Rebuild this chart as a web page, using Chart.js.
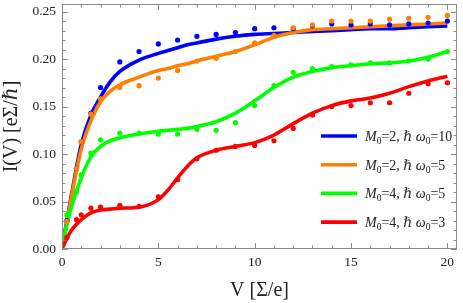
<!DOCTYPE html>
<html>
<head>
<meta charset="utf-8">
<script src="https://cdn.jsdelivr.net/npm/chart.js@4/dist/chart.umd.min.js"></script>
<style>
  html, body { margin: 0; padding: 0; background: #fff; }
  canvas { display: block; }
</style>
</head>
<body>
<canvas id="c" width="463" height="303"></canvas>
<script>
// ---------- data ----------
const seriesLabels = [
  ["M", "0", "=2, ", "ℏ", " ", "ω", "0", "=10"],
  ["M", "0", "=2, ", "ℏ", " ", "ω", "0", "=5"],
  ["M", "0", "=4, ", "ℏ", " ", "ω", "0", "=5"],
  ["M", "0", "=4, ", "ℏ", " ", "ω", "0", "=3"]
];
const seriesColors = ["#0000ff", "#ff8000", "#00ff00", "#ff0000"];

// theory curves (sampled V values)
const curveV = [0, 0.25, 0.5, 1, 1.5, 2, 2.5, 3, 4, 5, 5.5, 6, 6.5, 7, 8, 9, 10, 11, 12, 13, 14, 15, 16, 17, 18, 19, 20];
const curveBlue   = [0, 0.030, 0.058, 0.110, 0.141, 0.160, 0.176, 0.187, 0.199, 0.206, 0.209, 0.212, 0.215, 0.217, 0.221, 0.224, 0.226, 0.227, 0.228, 0.229, 0.230, 0.231, 0.232, 0.232, 0.233, 0.234, 0.235];
const curveOrange = [0, 0.028, 0.056, 0.105, 0.135, 0.155, 0.166, 0.173, 0.181, 0.188, 0.190, 0.193, 0.195, 0.198, 0.203, 0.208, 0.215, 0.223, 0.228, 0.231, 0.232, 0.233, 0.234, 0.235, 0.236, 0.237, 0.238];
const curveGreen  = [0, 0.025, 0.045, 0.075, 0.097, 0.108, 0.114, 0.117, 0.121, 0.124, 0.125, 0.126, 0.127, 0.129, 0.134, 0.143, 0.156, 0.170, 0.181, 0.187, 0.191, 0.193, 0.195, 0.196, 0.198, 0.202, 0.208];
const curveRed    = [0, 0.011, 0.020, 0.031, 0.038, 0.041, 0.042, 0.043, 0.044, 0.052, 0.062, 0.075, 0.087, 0.096, 0.104, 0.108, 0.112, 0.120, 0.132, 0.143, 0.151, 0.156, 0.159, 0.164, 0.171, 0.177, 0.182];

// simulation points
const pointV = [0.25, 0.75, 1, 1.5, 2, 3, 4, 5, 6, 7, 8, 9, 10, 11, 12, 13, 14, 15, 16, 17, 18, 19, 20];
const pointsBlue   = [0.030, 0.085, 0.113, 0.143, 0.170, 0.197, 0.208, 0.216, 0.220, 0.224, 0.226, 0.228, 0.232, 0.233, 0.232, 0.235, 0.237, 0.236, 0.237, 0.236, 0.237, 0.238, 0.240];
const pointsOrange = [0.029, 0.085, 0.113, 0.142, 0.158, 0.170, 0.172, 0.180, 0.188, 0.198, 0.201, 0.208, 0.217, 0.225, 0.233, 0.236, 0.240, 0.240, 0.240, 0.242, 0.243, 0.244, 0.246];
const pointsGreen  = [0.036, 0.060, 0.078, 0.101, 0.115, 0.122, 0.122, 0.121, 0.121, 0.126, 0.125, 0.133, 0.151, 0.172, 0.186, 0.190, 0.192, 0.194, 0.196, 0.196, 0.198, 0.200, 0.208];
const pointsRed    = [0.012, 0.031, 0.036, 0.043, 0.044, 0.046, 0.045, 0.055, 0.073, 0.095, 0.104, 0.108, 0.109, 0.114, 0.127, 0.141, 0.150, 0.151, 0.154, 0.154, 0.164, 0.174, 0.175];

const xTicks = [0, 5, 10, 15, 20];
const yTicks = [0, 0.05, 0.10, 0.15, 0.20, 0.25];
const xTitle = "V [Σ/e]";
const yTitle = "I(V) [eΣ/ℏ]";

// ---------- build ----------
const curves = [curveBlue, curveOrange, curveGreen, curveRed];
const points = [pointsBlue, pointsOrange, pointsGreen, pointsRed];
const toXY = (xs, ys) => xs.map((x, i) => ({ x: x, y: ys[i] }));

const datasets = [];
curves.forEach((c, i) => {
  datasets.push({
    type: 'line', data: toXY(curveV, c), borderColor: seriesColors[i],
    borderWidth: 3.6, pointRadius: 0, fill: false, showLine: true,
    cubicInterpolationMode: 'monotone', order: 10 - i
  });
});
points.forEach((p, i) => {
  datasets.push({
    type: 'scatter', data: toXY(pointV, p), backgroundColor: seriesColors[i],
    borderWidth: 0, pointRadius: 2.6, order: 5 - i
  });
});

const serif = "'Liberation Serif', 'DejaVu Serif', serif";
const frameColor = '#8c8c8c';

const framePlugin = {
  id: 'frameTicks',
  afterDraw(chart) {
    const ctx = chart.ctx, a = chart.chartArea;
    const xs = chart.scales.x, ys = chart.scales.y;
    ctx.save();
    ctx.strokeStyle = frameColor;
    ctx.lineWidth = 1;
    ctx.strokeRect(a.left + 0.5, a.top + 0.5, a.right - a.left - 1, a.bottom - a.top - 1);
    ctx.beginPath();
    for (let v = 0; v <= 20; v += 1) {
      const px = Math.round(xs.getPixelForValue(v)) + 0.5;
      const len = (v % 5 === 0) ? 6 : 3.5;
      ctx.moveTo(px, a.bottom); ctx.lineTo(px, a.bottom - len);
      ctx.moveTo(px, a.top); ctx.lineTo(px, a.top + len);
    }
    for (let k = 0; k <= 25; k += 1) {
      const py = Math.round(ys.getPixelForValue(k / 100)) + 0.5;
      const len = (k % 5 === 0) ? 6 : 3.5;
      ctx.moveTo(a.left, py); ctx.lineTo(a.left + len, py);
      ctx.moveTo(a.right, py); ctx.lineTo(a.right - len, py);
    }
    ctx.stroke();

    // legend
    const lx0 = a.right - 136, lx1 = a.right - 100, tx = a.right - 92;
    seriesLabels.forEach((segs, i) => {
      const y = a.top + 132 + i * 28.7;
      ctx.strokeStyle = seriesColors[i];
      ctx.lineWidth = 3.6;
      ctx.beginPath(); ctx.moveTo(lx0, y); ctx.lineTo(lx1, y); ctx.stroke();
      let x = tx;
      ctx.fillStyle = '#222';
      ctx.textBaseline = 'alphabetic';
      segs.forEach((s, j) => {
        const isSub = (j === 1 || j === 6);
        const isItal = (j === 0 || j === 3 || j === 5);
        ctx.font = (isItal ? 'italic ' : '') + (isSub ? '9.5px ' : '14px ') + serif;
        ctx.fillText(s, x, y + 5 + (isSub ? 3 : 0));
        x += ctx.measureText(s).width;
      });
    });
    ctx.restore();
  }
};

new Chart(document.getElementById('c'), {
  data: { datasets: datasets },
  options: {
    responsive: false, animation: false, devicePixelRatio: 1,
    layout: { padding: { top: 2, right: 6, left: 0, bottom: 0 } },
    plugins: { legend: { display: false }, tooltip: { enabled: false } },
    scales: {
      x: {
        type: 'linear', min: 0, max: 20.5,
        afterFit: s => { s.height = 54; s.paddingLeft = 0; s.paddingRight = 0; },
        afterBuildTicks: s => { s.ticks = xTicks.map(v => ({ value: v })); },
        ticks: { font: { family: serif, size: 13.5 }, color: '#222', padding: 5, maxRotation: 0,
                 callback: v => String(v) },
        grid: { display: false, drawTicks: false, tickLength: 0 }, border: { display: false },
        title: { display: true, text: xTitle, font: { family: serif, size: 20 }, color: '#222',
                 padding: { top: 0, bottom: 0 } }
      },
      y: {
        type: 'linear', min: 0, max: 0.258,
        afterFit: s => { s.width = 62; s.paddingTop = 0; s.paddingBottom = 0; },
        afterBuildTicks: s => { s.ticks = yTicks.map(v => ({ value: v })); },
        ticks: { font: { family: serif, size: 13.5 }, color: '#222', padding: 6,
                 callback: v => Number(v).toFixed(2) },
        grid: { display: false, drawTicks: false, tickLength: 0 }, border: { display: false },
        title: { display: true, text: yTitle, font: { family: serif, size: 20 }, color: '#222',
                 padding: { top: 0, bottom: 0 } }
      }
    }
  },
  plugins: [framePlugin]
});
</script>
</body>
</html>
